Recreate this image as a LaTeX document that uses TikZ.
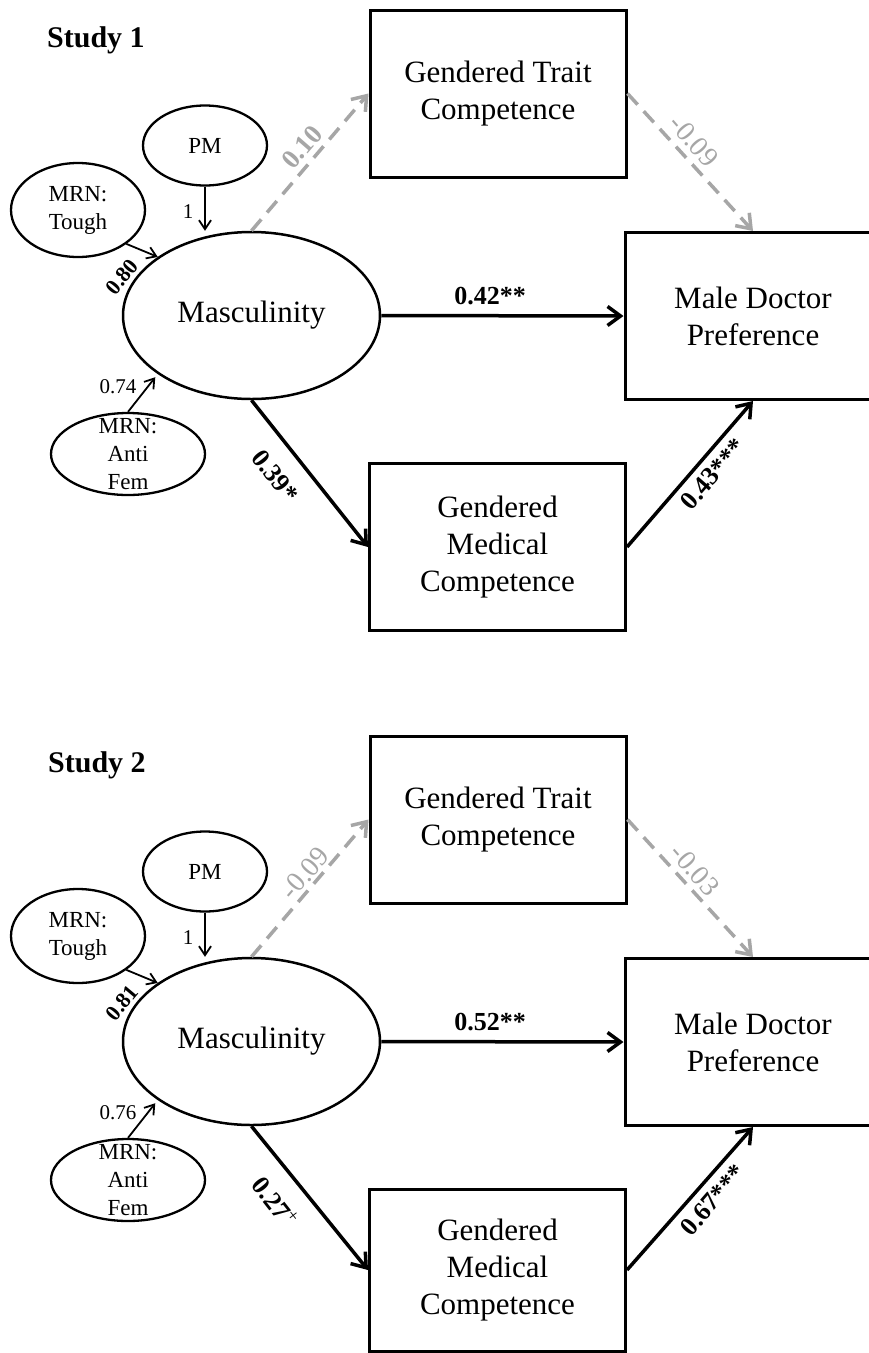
\documentclass[tikz,border=0pt]{standalone}
\usepackage{fontspec}
\setmainfont{Liberation Serif}
\usetikzlibrary{arrows.meta,shapes.geometric}
\definecolor{lgray}{HTML}{A6A6A6}
\tikzset{
  box/.style={draw, line width=3pt, minimum width=256pt, minimum height=167pt, inner sep=0pt, align=center, font=\fontsize{31}{37}\selectfont},
  bigell/.style={draw, ellipse, line width=2.5pt, minimum width=257pt, minimum height=167pt, inner sep=0pt, font=\fontsize{31}{37}\selectfont},
  smell/.style={draw, ellipse, line width=2.3pt, inner sep=0pt, align=center, font=\fontsize{23}{28}\selectfont},
  etext/.style={align=center, font=\fontsize{23}{28}\selectfont, inner sep=0pt},
  thinarrow/.style={line width=1.8pt, -{Straight Barb[length=9pt,width=12pt]}},
  thickarrow/.style={line width=3.5pt, -{Straight Barb[length=13pt,width=19pt]}},
  grayarrow/.style={thickarrow, draw=lgray, dash pattern=on 15pt off 9pt},
  plabel/.style={font=\bfseries\fontsize{26}{30}\selectfont, inner sep=0pt},
  glabel/.style={text=lgray, font=\fontsize{28}{32}\selectfont, inner sep=0pt},
  gblabel/.style={text=lgray, font=\bfseries\fontsize{27}{32}\selectfont, inner sep=0pt},
  slabel/.style={font=\fontsize{21}{25}\selectfont, inner sep=0pt},
  sblabel/.style={font=\bfseries\fontsize{22}{26}\selectfont, inner sep=0pt},
  studytitle/.style={font=\bfseries\fontsize{30}{36}\selectfont, anchor=base west, inner sep=0pt},
}
\begin{document}
\begin{tikzpicture}[x=1pt,y=-1pt]
\useasboundingbox (0,0) rectangle (869,1353);
\fill[white] (0,0) rectangle (869,1353);
\clip (0,0) rectangle (869,1353);

% ---------------- Study 1 ----------------
\node[studytitle] (h1) at (47,47) {Study 1};
\node[box] (t1) at (498,93.5) {Gendered Trait\\Competence};
\node[box] (d1) at (753,316) {Male Doctor\\Preference};
\node[box] (m1) at (497.5,547) {Gendered\\Medical\\Competence};
\node[bigell] (x1) at (251.5,315.5) {Masculinity};
\node[smell, minimum width=124pt, minimum height=80pt] (p1) at (205,145.5) {PM};
\node[smell, minimum width=134pt, minimum height=94pt] (g1) at (78,210) {MRN:\\Tough};
\node[smell, minimum width=154pt, minimum height=82pt] (a1) at (128,454) {};
\node[etext] (a1t) at (a1.center) {MRN:\\Anti\\Fem};

\draw[thinarrow] (p1.south) -- (p1.south |- x1.north);
\draw[thinarrow] (g1.-35) -- (x1.148);
\draw[thinarrow, shorten >=4pt] (a1.north) -- (x1.212);
\draw[grayarrow] (x1.north) -- (t1.west);
\draw[grayarrow] (t1.east) -- (d1.north);
\draw[thickarrow] (x1.east) -- (d1.west);
\draw[thickarrow] (x1.south) -- (m1.west);
\draw[thickarrow] (m1.east) -- (d1.south);

\node[slabel] (l1a) at (188,212) {1};
\node[sblabel, rotate=50] (l1b) at (122,277) {0.80};
\node[slabel] (l1c) at (118,387) {0.74};
\node[gblabel, rotate=49] (l1d) at (302,147) {0.10};
\node[glabel, rotate=-49] (l1e) at (694,141) {-0.09};
\node[plabel] (l1f) at (490,296) {0.42**};
\node[plabel, rotate=-52] (l1g) at (275,476) {0.39*};
\node[plabel, rotate=49] (l1h) at (713,474) {0.43***};

% ---------------- Study 2 ----------------
\begin{scope}[yshift=-726pt]
\node[studytitle] (h2) at (48,46) {Study 2};
\node[box] (t2) at (498,93.5) {Gendered Trait\\Competence};
\node[box] (d2) at (753,316) {Male Doctor\\Preference};
\node[box, minimum height=162pt] (m2) at (497.5,544) {Gendered\\Medical\\Competence};
\node[bigell] (x2) at (251.5,315.5) {Masculinity};
\node[smell, minimum width=124pt, minimum height=80pt] (p2) at (205,145.5) {PM};
\node[smell, minimum width=134pt, minimum height=94pt] (g2) at (78,210) {MRN:\\Tough};
\node[smell, minimum width=154pt, minimum height=82pt] (a2) at (128,454) {};
\node[etext] (a2t) at (a2.center) {MRN:\\Anti\\Fem};

\draw[thinarrow] (p2.south) -- (p2.south |- x2.north);
\draw[thinarrow] (g2.-35) -- (x2.148);
\draw[thinarrow, shorten >=4pt] (a2.north) -- (x2.212);
\draw[grayarrow] (x2.north) -- (t2.west);
\draw[grayarrow] (t2.east) -- (d2.north);
\draw[thickarrow] (x2.east) -- (d2.west);
\draw[thickarrow] (x2.south) -- (m2.west);
\draw[thickarrow] (m2.east) -- (d2.south);

\node[slabel] (l2a) at (188,212) {1};
\node[sblabel, rotate=50] (l2b) at (122,277) {0.81};
\node[slabel] (l2c) at (118,387) {0.76};
\node[glabel, rotate=49] (l2d) at (305,147) {-0.09};
\node[glabel, rotate=-49] (l2e) at (695,144) {-0.03};
\node[plabel] (l2f) at (490,296) {0.52**};
\node[plabel, rotate=-52] (l2g) at (275,476) {0.27\textsuperscript{\mdseries+}};
\node[plabel, rotate=49] (l2h) at (713,474) {0.67***};
\end{scope}
\end{tikzpicture}
\end{document}
